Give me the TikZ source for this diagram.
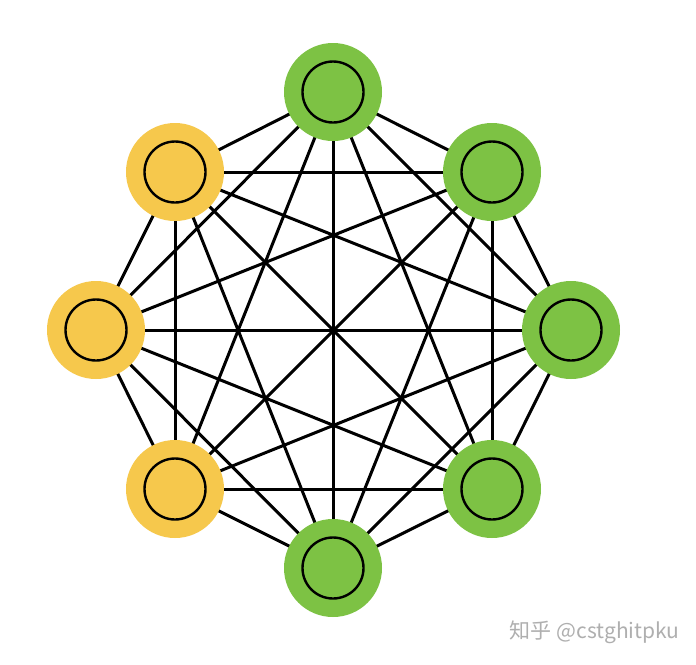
\documentclass[tikz,border=0pt]{standalone}
\usepackage{fontspec}
\newfontfamily\cjk{Noto Sans CJK SC}
\definecolor{ngreen}{RGB}{125,194,68}
\definecolor{nyellow}{RGB}{246,200,76}
\definecolor{wmgray}{RGB}{175,175,175}
\begin{document}
\begin{tikzpicture}[x=1pt,y=-1pt,
  vtx/.style={circle,minimum size=98pt,inner sep=0pt},
  innerring/.style={circle,draw=black,line width=2.4pt,minimum size=61pt,inner sep=0pt},
  edge/.style={line width=3pt,black}]
\useasboundingbox (0,0) rectangle (696,664);
\fill[white] (0,0) rectangle (696,664);
\coordinate (c1) at (333,92);
\coordinate (c2) at (492,172);
\coordinate (c3) at (571,330);
\coordinate (c4) at (492,489);
\coordinate (c5) at (333,568);
\coordinate (c6) at (175,489);
\coordinate (c7) at (96,330);
\coordinate (c8) at (175,172);
\foreach \i in {1,...,8}{
  \foreach \j in {1,...,8}{
    \ifnum\i<\j \draw[edge] (c\i) -- (c\j); \fi
  }
}
\foreach \i/\col in {1/ngreen,2/ngreen,3/ngreen,4/ngreen,5/ngreen,6/nyellow,7/nyellow,8/nyellow}{
  \node[vtx,fill=\col] (v\i) at (c\i) {};
  \node[innerring,fill=\col] (r\i) at (c\i) {};
}
\node[text=wmgray,anchor=east,font=\cjk\fontsize{21}{21}\selectfont] (wm) at (683,632) {知乎 @cstghitpku};
\end{tikzpicture}
\end{document}
